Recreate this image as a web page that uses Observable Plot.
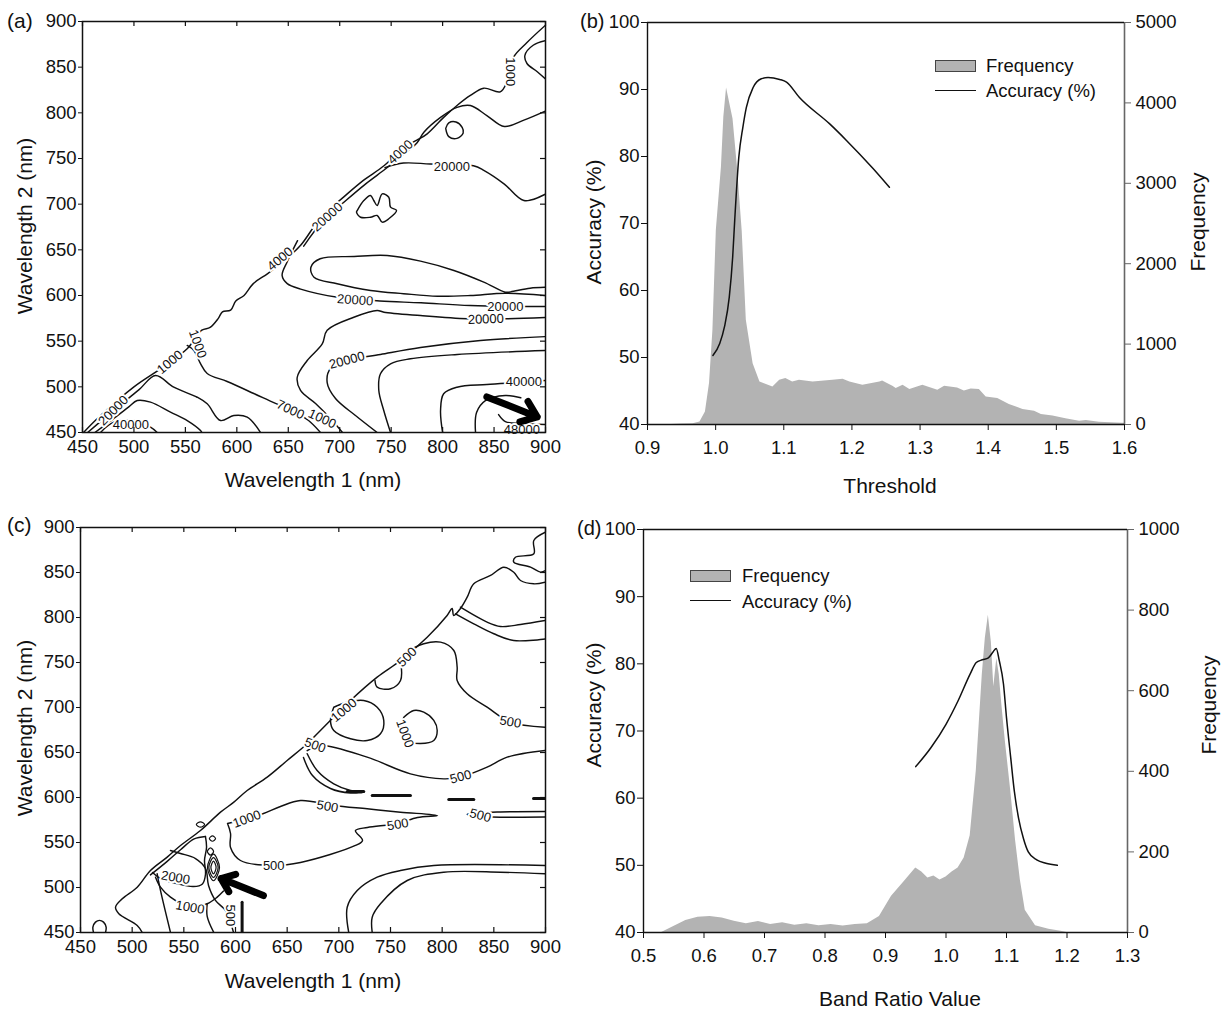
<!DOCTYPE html>
<html><head><meta charset="utf-8">
<script src="https://cdn.jsdelivr.net/npm/d3@7"></script>
<script src="https://cdn.jsdelivr.net/npm/@observablehq/plot@0.6"></script>
<style>
body{margin:0;background:#fff;font-family:"Liberation Sans",Arial,sans-serif;}
#wrap{position:relative;width:1226px;height:1010px;overflow:hidden;background:#fff;}
</style></head><body><div id="wrap"></div>
<script>
// ---------- tick values ----------
const wlTicks = [450,500,550,600,650,700,750,800,850,900];
const accTicks = [40,50,60,70,80,90,100];
const bThrTicks = [0.9,1.0,1.1,1.2,1.3,1.4,1.5,1.6];
const bFreqTicks = [0,1000,2000,3000,4000,5000];
const dRatioTicks = [0.5,0.6,0.7,0.8,0.9,1.0,1.1,1.2,1.3];
const dFreqTicks = [0,200,400,600,800,1000];

// ---------- panel (b) ----------
const bThreshold = [0.9,0.935,0.95,0.967,0.977,0.985,0.991,0.996,1.001,1.0085,1.012,1.016,1.0255,1.032,1.039,1.045,1.055,1.065,1.084,1.094,1.103,1.113,1.123,1.143,1.172,1.187,1.197,1.216,1.241,1.245,1.26,1.265,1.275,1.285,1.304,1.326,1.336,1.355,1.365,1.375,1.387,1.397,1.414,1.431,1.451,1.468,1.478,1.495,1.514,1.534,1.544,1.563,1.597,1.6];
const bFrequency = [0,0,5,10,32,157,509,1171,2414,3200,3820,4185,3800,3200,2400,1296,757,529,467,550,571,529,550,529,550,563,529,488,529,542,476,447,488,435,488,426,476,455,418,443,435,343,322,250,186,166,124,107,70,41,50,29,17,17];
const bAccThreshold = [0.996,1.006,1.013,1.02,1.025,1.028,1.034,1.04,1.045,1.055,1.067,1.077,1.094,1.104,1.123,1.167,1.192,1.231,1.255];
const bAccuracy = [50.3,52.1,54.6,59.0,65.0,70.5,79.9,84.4,87.3,90.3,91.6,91.8,91.5,91.1,88.8,84.9,82.4,78.2,75.4];

// ---------- panel (d) ----------
const dRatio = [0.53,0.55,0.57,0.59,0.61,0.63,0.65,0.67,0.69,0.71,0.73,0.75,0.77,0.79,0.81,0.83,0.85,0.87,0.89,0.91,0.93,0.95,0.96,0.97,0.98,0.99,1.0,1.01,1.02,1.03,1.04,1.05,1.055,1.06,1.065,1.07,1.075,1.079,1.084,1.088,1.092,1.098,1.107,1.115,1.123,1.131,1.148,1.17,1.19,1.2];
const dFrequency = [0,15,30,38,40,36,28,22,27,20,24,18,22,17,20,16,20,22,40,90,125,160,150,135,140,130,138,150,160,185,240,400,520,640,730,787,720,610,680,640,570,476,352,228,129,55,17,8,3,0];
const dAccRatio = [0.95,0.975,1.0,1.02,1.04,1.05,1.06,1.07,1.078,1.083,1.088,1.095,1.1,1.107,1.113,1.12,1.128,1.136,1.15,1.165,1.184];
const dAccuracy = [64.7,67.5,71,74.5,78.5,80.2,80.6,80.9,81.8,82.3,80.5,77,72,66,61,57,54,52,50.8,50.3,50];

// ---------- panel (a) contour lines [wavelength1, wavelength2] ----------
const aOuter = [[451,450],[467,468],[500,500],[526,520],[552,542],[566,562],[574,565],[582,575],[586,582],[594,584],[599,594],[607,600],[616,613],[630,624],[646,638],[662,655],[682,686],[704,708],[723,726],[743,742],[762,762],[775,770],[785,777],[801,795],[814,808],[827,819],[840,827],[856,823],[863,835],[866,845],[869,861],[882,877],[900,896]];
const aCorner = [[900,879],[888,874],[880,863],[882,854],[892,845],[900,837]];
const a4000 = [[900,802],[879,792],[860,785],[843,797],[827,808],[814,806],[798,795],[782,779],[775,767],[757,750],[745,739],[725,722],[706,704],[684,682],[665,654]];
const aUpper20000 = [[744,740],[762,745],[788,744],[830,742],[840,737],[860,722],[879,704],[900,711]];
const aMid20000 = [[659,660],[649,637],[644,622],[649,613],[662,607],[698,598],[739,594],[779,592],[827,589],[900,588]];
const aTongue = [[900,609],[885,608],[866,604],[861,603.6],[840,614.6],[811,627.4],[778.5,637.6],[746,643.8],[714,642.7],[681,640.2],[672,631],[675,620],[697.5,612.8],[730,605.5],[762,602],[795,599.2],[827,600],[861,602.5],[900,600]];
const aHook = [[900,576],[860,574.5],[824,574.5],[778.5,578],[743,581.7],[736.4,583.6],[713.7,576.2],[687.8,562],[683,547],[668.4,528.8],[658.7,510.5],[661.9,496],[676.5,481.8],[691,465.4],[702.7,450]];
const aLow20000 = [[900,555],[836.8,550.7],[778.5,543],[739.6,535.4],[707.3,528.8],[691,520],[687.8,504.7],[695.9,487.2],[715.3,468.6],[736.4,450]];
const aMidC = [[900,539.8],[814.2,535.4],[768.8,530.7],[749.4,525.2],[739.6,514.3],[738,496],[742.8,474.1],[749.4,450]];
const a40000 = [[900,507],[879,505],[843,502.5],[814,499.6],[801,492.4],[798,474],[800,450]];
const a48000a = [[832,450],[833,472],[841.6,485],[861,490.5],[876,488]];
const a48000b = [[854.4,469.6],[861,462],[876,459.8],[900,458.7]];
const a1000 = [[551.8,545.3],[558.2,539.8],[564.7,525.5],[571.2,514.6],[590.6,505.8],[616.5,492.7],[637.6,481.8],[654.1,474.1],[669.7,463.1],[681.3,450]];
const aRidge1 = [[455,450],[480,474],[505,497],[521,512.4],[538.7,499.6],[561.5,488.6],[571.2,481.4],[584.1,463.1],[597.1,468.6],[610.1,466.8],[623,450]];
const aRidge2 = [[462,450],[480,465],[495,478],[503.2,485],[516.1,483.2],[535.5,472.3],[551.8,463.1],[564.7,452.2],[566,450]];
const aRidge3 = [[467.5,450],[480.4,461.3],[499.9,463.1],[516.1,455.8],[522.6,450]];
const aOval = [[803,783],[806,789],[813,790],[819,784],[820,778],[814,772],[806,774],[803,783]];
const aBlob = [[717,693],[723.4,704],[729.9,709.5],[733.1,704],[736.4,698.5],[741.3,711.3],[747.7,707.6],[749.4,696.7],[755.2,693.1],[747.7,684],[741.3,680.3],[736.4,687.6],[729.9,685.7],[720.2,685.7],[716.3,691.2],[717,693]];
const aLines = [aOuter,aCorner,a4000,aUpper20000,aMid20000,aTongue,aHook,aLow20000,aMidC,a40000,a48000a,a48000b,a1000,aRidge1,aRidge2,aRidge3,aOval,aBlob];
const aLabels = [
 {x:866,y:845,t:"1000",r:90},{x:759,y:757,t:"4000",r:-42},{x:809,y:741,t:"20000",r:0},
 {x:688,y:686,t:"20000",r:-42},{x:642,y:640,t:"4000",r:-40},{x:715,y:595,t:"20000",r:4},
 {x:861,y:588,t:"20000",r:0},{x:842,y:574,t:"20000",r:-2},{x:707,y:529,t:"20000",r:-15},
 {x:879,y:505,t:"40000",r:0},{x:877,y:453,t:"48000",r:0},{x:652,y:475,t:"7000",r:25},
 {x:683,y:465,t:"1000",r:25},{x:562,y:547,t:"1000",r:70},{x:535,y:527,t:"1000",r:-40},
 {x:480,y:474,t:"20000",r:-45},{x:497,y:458,t:"40000",r:0}
];
const aArrow = [{x1:843,y1:489,x2:892,y2:467}];

// ---------- panel (c) contour lines ----------
const cOuter = [[509.7,450],[504.9,457.8],[487.1,470.8],[483.9,478.1],[490.4,487.4],[504.9,500.3],[517.7,518.9],[533.9,533.7],[546.8,546.7],[566.1,563.3],[585.5,583.7],[598.4,594.8],[611.3,607.8],[630.7,622.6],[650,641.1],[669.4,659.7],[682.2,674.4],[711.3,707.8],[737.1,733.7],[759.7,752.2],[785.5,778.1],[804.8,802.2],[809.6,810],[811.2,802.2],[817.7,810],[824.2,822.6],[830.6,837.4],[846.8,846.7],[859.6,855.9],[869.3,850.3],[875.8,841.1],[888.7,837.4],[900,839.2]];
const cCorner = [[900,894.8],[888.7,885.6],[888.7,870.8],[870.9,867],[869.3,861.5],[885.5,856],[895.2,850.4],[900,852.2]];
const cRight1 = [[817.7,811.4],[843.5,794.8],[856.4,790],[875.8,792.2],[900,796.7]];
const cRight2 = [[812.9,804.1],[830.6,793],[850,781.9],[869.3,774.4],[900,776.3]];
const c500a = [[759.7,752.2],[766.2,761.1],[782.2,770.8],[798.4,772.6],[811.3,763.3],[814.5,744.8],[814.5,730],[824.2,715.2],[843.5,700.3],[866.1,683.7],[900,678.1]];
const cNotch = [[759.7,752.2],[759.7,730],[750,720.8],[737.1,722.6],[735,730]];
const cBlob1 = [[695.1,700.3],[708,705.9],[724.1,707.8],[737.1,700.3],[743.5,685.6],[740.3,670.8],[727.4,663.3],[711.3,665.2],[695.1,674.4],[691.9,685.6],[695.1,700.3]];
const cBlob2 = [[762.9,689.2],[772.5,696.7],[782.2,694.8],[791.9,685.6],[795.2,674.4],[791.9,663.3],[779,660],[764.5,663.3],[759.7,674.4],[762.9,689.2]];
const c500b = [[669.4,652],[682.2,657.8],[727.4,644.8],[769.3,626.3],[801.6,620.7],[817.7,622.6],[843.5,633.7],[862.9,644.8],[900,652.2]];
const cTongue = [[669.4,648.6],[679,630],[695.1,615.2],[711.3,607.8],[724.1,605.9],[711.3,605],[691.9,610],[674.5,624.4],[665.8,644.4]];
const cLoop500 = [[592.3,571.1],[595.2,560],[595.2,544.4],[604.8,530],[636.8,524.4],[662.9,527.8],[716.1,546.7],[722.9,552.2],[716.1,563.3],[727.7,566.7],[756.8,571.1],[776.1,577.8],[795.5,580],[759.7,583.7],[727.4,587.4],[695.1,591.1],[662.9,596.7],[643.5,590],[627.1,582.2],[611.6,576.7],[592.3,571.1]];
const cRight500 = [[900,584.4],[856.4,583.9],[827.4,582.2],[824.2,581.1],[837.1,578.9],[900,578.3]];
const cBottom1 = [[900,524.4],[791.9,524.4],[759.7,518.9],[737.1,511.5],[717.8,496.7],[708.1,478.1],[709.6,450]];
const cBottom2 = [[900,515.2],[856.4,517],[801.6,517],[766.2,507.8],[740.3,481.9],[732.3,467],[732.3,450]];
const c1000 = [[522.6,511.5],[527.4,500.4],[537.1,489.3],[556.4,478.1],[572.6,481.9],[582.3,489.3],[588.4,496]];
const c2000 = [[519.7,516.7],[527.4,510],[541.9,504.8],[559.3,501.1],[568,504],[571,515],[570,530],[572,545],[570.9,556.7]];
const cDiag = [[517.7,514],[533.9,529],[546.8,542],[560,554],[570.9,556.7]];
const cDown1 = [[524.2,515.2],[527.4,496.7],[537.1,450]];
const cDown2 = [[572.6,481.9],[572.6,468],[579,450]];
const cValley = [[537.1,541.1],[546.8,537.8],[561.3,532.2],[571,521.1],[573.9,502.2],[580.6,485.6],[590.3,474.4],[598.1,450]];
const cSemi = [[462.6,450],[462,456],[464.5,461.5],[468.4,463.5],[472.3,461.5],[474.8,456],[474.2,450]];
const cLines = [cOuter,cCorner,cRight1,cRight2,c500a,cNotch,cBlob1,cBlob2,c500b,cTongue,cLoop500,cRight500,cBottom1,cBottom2,c1000,c2000,cDiag,cDown1,cDown2,cValley,cSemi];
const cLoops = [
 [[576.2,522.2],[578.7,529.2],[581.2,522.2],[578.7,515.2]],
 [[574.2,522.2],[578.7,533.2],[583.2,522.2],[578.7,511.2]],
 [[572.9,522.2],[578.7,537],[584.5,522.2],[578.7,507.5]],
 [[562.1,570],[566.1,573],[570.1,570],[566.1,567]],
 [[574.7,554.4],[577.7,557.4],[580.7,554.4],[577.7,551.4]],
 [[572.8,540],[575.8,544],[578.8,540],[575.8,536]]
];
const cThick = [
 [[708.1,606.7],[724.1,606.7]],[[732.3,602.2],[769.3,602.2]],[[806.4,597.8],[830.6,597.8]],[[888.4,598.9],[900,598.9]],
 [[606.4,450],[606.4,483.7]]
];
const cLabels = [
 {x:766,y:756,t:"500",r:-45},{x:705,y:697,t:"1000",r:-40},{x:764,y:671,t:"1000",r:70},
 {x:866,y:684,t:"500",r:10},{x:677,y:658,t:"500",r:20},{x:818,y:623,t:"500",r:-15},
 {x:689,y:590,t:"500",r:10},{x:757,y:570,t:"500",r:-10},{x:837,y:580,t:"500",r:15},
 {x:611,y:576,t:"1000",r:-20},{x:637,y:524,t:"500",r:0},{x:542,y:511,t:"2000",r:10},
 {x:556,y:478,t:"1000",r:10},{x:595,y:469,t:"500",r:90}
];
const cArrow = [{x1:627,y1:491,x2:586,y2:510}];

// ---------- helpers ----------
const FONT = "'Liberation Sans', Arial, sans-serif";
const wrap = document.getElementById("wrap");
function addSvg(svg, left, top){
  svg.style.position = "absolute"; svg.style.left = left + "px"; svg.style.top = top + "px";
  wrap.appendChild(svg);
}
function addText(txt, x, y, opts = {}){
  const d = document.createElement("div");
  d.textContent = txt;
  d.style.cssText = `position:absolute;left:${x}px;top:${y}px;font-size:${opts.size||21}px;white-space:nowrap;color:#111;line-height:1;font-family:${FONT};`;
  const base = opts.anchor === "start" ? "translate(0,-50%)" : "translate(-50%,-50%)";
  d.style.transform = base + (opts.rot ? " rotate(-90deg)" : "");
  wrap.appendChild(d);
}
function addBox(x, y, w, h){
  const d = document.createElement("div");
  d.style.cssText = `position:absolute;left:${x}px;top:${y}px;width:${w}px;height:${h}px;background:#b3b3b3;border:1px solid #444;box-sizing:border-box;`;
  wrap.appendChild(d);
}
function addStroke(x, y, w){
  const d = document.createElement("div");
  d.style.cssText = `position:absolute;left:${x}px;top:${y}px;width:${w}px;height:0;border-top:1.6px solid #111;`;
  wrap.appendChild(d);
}
const baseStyle = {fontFamily: FONT, fontSize: "18.5px", background: "transparent", color: "#111", overflow: "visible"};
const plain = d => String(d);

function contourPlot({mt, mb, ml, mr, lines, loops = [], thick = [], labels, arrow}){
  const W = 600, H = 500, pw = W - ml - mr, ph = H - mt - mb;
  return Plot.plot({
    width: W, height: H, marginTop: mt, marginBottom: mb, marginLeft: ml, marginRight: mr,
    x: {domain: [450, 900]}, y: {domain: [450, 900]},
    style: baseStyle,
    marks: [
      ...lines.map(l => Plot.line(l, {x: d => d[0], y: d => d[1], stroke: "#111", strokeWidth: 1.45, curve: "catmull-rom", clip: true})),
      ...loops.map(l => Plot.line(l, {x: d => d[0], y: d => d[1], stroke: "#111", strokeWidth: 1.2, curve: "catmull-rom-closed", clip: true})),
      ...thick.map(l => Plot.line(l, {x: d => d[0], y: d => d[1], stroke: "#111", strokeWidth: 3, clip: true})),
      Plot.text(labels, {x: "x", y: "y", text: "t", rotate: "r", fontSize: 13, fill: "#111", stroke: "white", strokeWidth: 4, paintOrder: "stroke"}),
      Plot.arrow(arrow, {x1: "x1", y1: "y1", x2: "x2", y2: "y2", stroke: "#000", strokeWidth: 7, headLength: 12, headAngle: 75}),
      Plot.frame({stroke: "#111", strokeWidth: 1.5}),
      Plot.tickX(wlTicks, {x: d => d, insetTop: ph - 5, stroke: "#111", strokeWidth: 1.2}),
      Plot.tickX(wlTicks, {x: d => d, insetBottom: ph - 5, stroke: "#111", strokeWidth: 1.2}),
      Plot.tickY(wlTicks, {y: d => d, insetLeft: pw - 5, stroke: "#111", strokeWidth: 1.2}),
      Plot.axisY(wlTicks, {tickSize: 4, tickPadding: 2, label: null, fontSize: 18.5, stroke: "#111"}),
      Plot.axisX(wlTicks, {tickSize: 0, tickPadding: 7, label: null, fontSize: 18.5})
    ]
  });
}

function freqPlot({mt, mb, ml, mr, xDomain, yDomain, xs, ys, ticks}){
  return Plot.plot({
    width: 646, height: 500, marginTop: mt, marginBottom: mb, marginLeft: ml, marginRight: mr,
    x: {domain: xDomain}, y: {domain: yDomain},
    style: baseStyle,
    marks: [
      Plot.areaY(xs.map((t, i) => ({t, f: ys[i]})), {x: "t", y: "f", fill: "#b3b3b3"}),
      Plot.ruleX([xDomain[1]], {stroke: "#666", strokeWidth: 1.6}),
      Plot.axisY(ticks, {anchor: "right", tickSize: 6, tickPadding: 5, label: null, stroke: "#666", fill: "#111", fontSize: 18.5, tickFormat: plain}),
      Plot.axisX([], {label: null})
    ]
  });
}
function accPlot({mt, mb, ml, mr, xDomain, xs, ys, xTicks}){
  return Plot.plot({
    width: 646, height: 500, marginTop: mt, marginBottom: mb, marginLeft: ml, marginRight: mr,
    x: {domain: xDomain}, y: {domain: [40, 100]},
    style: baseStyle,
    marks: [
      Plot.line(xs.map((t, i) => ({t, a: ys[i]})), {x: "t", y: "a", stroke: "#111", strokeWidth: 1.5, curve: "monotone-x"}),
      Plot.ruleY([100], {stroke: "#111", strokeWidth: 1.4}),
      Plot.ruleY([40], {stroke: "#111", strokeWidth: 1.4}),
      Plot.ruleX([xDomain[0]], {stroke: "#111", strokeWidth: 1.4}),
      Plot.axisY(accTicks, {tickSize: 6, tickPadding: 2, label: null, fontSize: 18.5, stroke: "#111"}),
      Plot.axisX(xTicks, {tickSize: 6, tickPadding: 10, label: null, fontSize: 18.5, stroke: "#111", tickFormat: d3.format(".1f")})
    ]
  });
}

// ---------- panel (a) ----------
addSvg(contourPlot({mt: 21, mb: 68, ml: 82, mr: 55, lines: aLines, labels: aLabels, arrow: aArrow}), 0, 0);
addText("(a)", 7, 20, {anchor: "start"});
addText("Wavelength 2 (nm)", 24, 226, {rot: true});
addText("Wavelength 1 (nm)", 313, 479);

// ---------- panel (c) ----------
addSvg(contourPlot({mt: 27, mb: 68, ml: 80, mr: 55, lines: cLines, loops: cLoops, thick: cThick, labels: cLabels, arrow: cArrow}), 0, 500);
addText("(c)", 7, 524, {anchor: "start"});
addText("Wavelength 2 (nm)", 24, 728, {rot: true});
addText("Wavelength 1 (nm)", 313, 980);

// ---------- panel (b) ----------
const bm = {mt: 22, mb: 76, ml: 67, mr: 102};
addSvg(freqPlot({...bm, xDomain: [0.9, 1.6], yDomain: [0, 5000], xs: bThreshold, ys: bFrequency, ticks: bFreqTicks}), 580, 0);
addSvg(accPlot({...bm, xDomain: [0.9, 1.6], xs: bAccThreshold, ys: bAccuracy, xTicks: bThrTicks}), 580, 0);
addText("(b)", 580, 21, {anchor: "start", size: 20});
addText("Accuracy (%)", 593, 222, {rot: true});
addText("Frequency", 1197, 222, {rot: true});
addText("Threshold", 890, 485);
addBox(935, 60, 41, 12);
addText("Frequency", 986, 66, {anchor: "start", size: 18.5});
addStroke(935, 90, 41);
addText("Accuracy (%)", 986, 91, {anchor: "start", size: 18.5});

// ---------- panel (d) ----------
const dm = {mt: 29, mb: 68, ml: 63, mr: 99};
addSvg(freqPlot({...dm, xDomain: [0.5, 1.3], yDomain: [0, 1000], xs: dRatio, ys: dFrequency, ticks: dFreqTicks}), 580, 500);
addSvg(accPlot({...dm, xDomain: [0.5, 1.3], xs: dAccRatio, ys: dAccuracy, xTicks: dRatioTicks}), 580, 500);
addText("(d)", 577, 528, {anchor: "start", size: 20});
addText("Accuracy (%)", 593, 705, {rot: true});
addText("Frequency", 1208, 705, {rot: true});
addText("Band Ratio Value", 900, 998);
addBox(690, 570, 41, 12);
addText("Frequency", 742, 576, {anchor: "start", size: 18.5});
addStroke(690, 600, 41);
addText("Accuracy (%)", 742, 602, {anchor: "start", size: 18.5});
</script></body></html>
